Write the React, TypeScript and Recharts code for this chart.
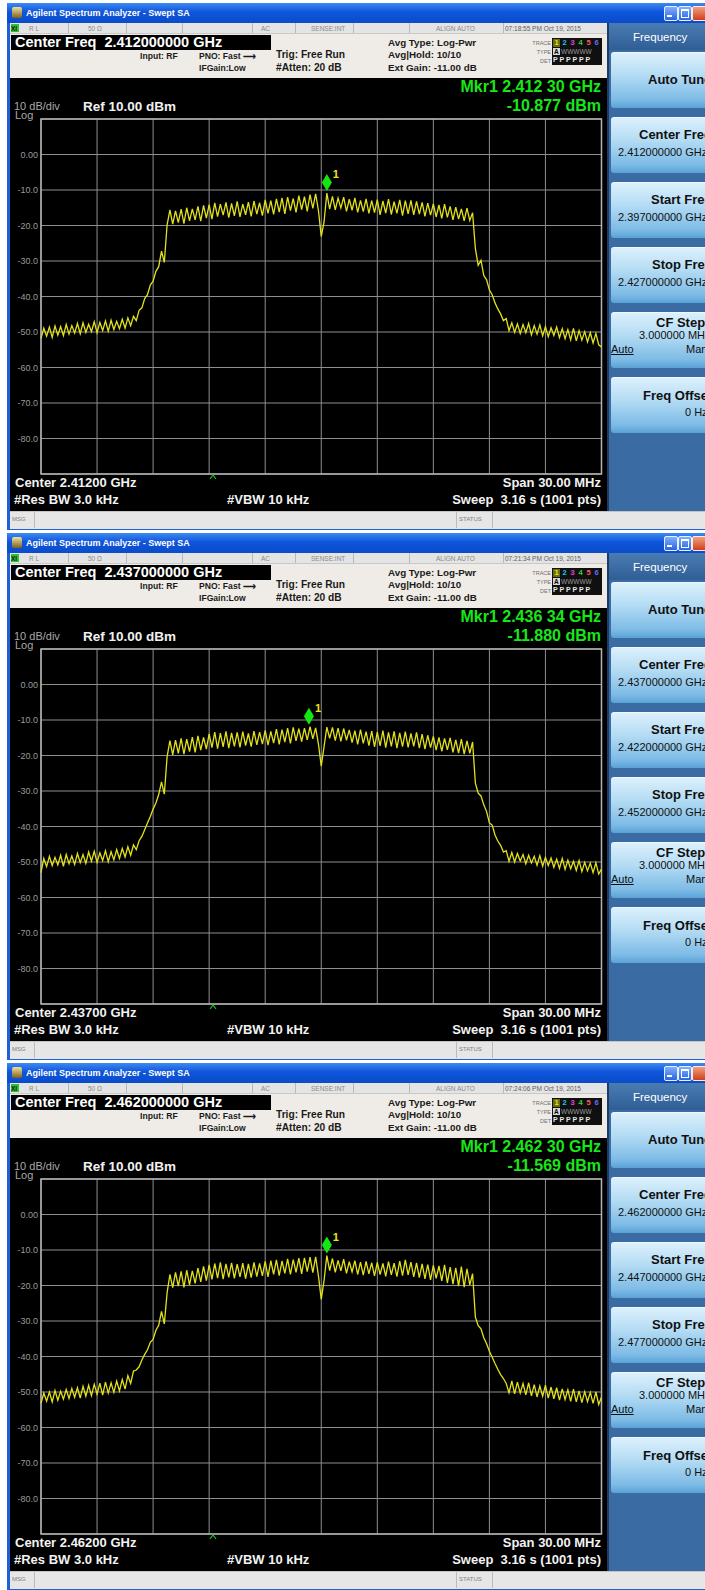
import React from 'react';
import { LineChart, Line, XAxis, YAxis, CartesianGrid, ReferenceDot, ReferenceArea } from 'recharts';

// Sweep settings shared by the three captures
const SPAN_MHZ = 30;
const FREQ_STEP_MHZ = 0.15;
const REF_LEVEL = 10;
const Y_TICKS = [10, 0, -10, -20, -30, -40, -50, -60, -70, -80, -90];
const X_TICKS = [-15, -12, -9, -6, -3, 0, 3, 6, 9, 12, 15];

const CENTER_GHZ = [2.412, 2.437, 2.462];
const MARKER_GHZ = [2.4123, 2.43634, 2.4623];
const MARKER_DBM = [-10.877, -11.88, -11.569];
const TIMESTAMPS = ['07:18:55 PM Oct 19, 2015', '07:21:34 PM Oct 19, 2015', '07:24:06 PM Oct 19, 2015'];

// Trace 1 levels (dBm), one per sweep step from -15 MHz to +15 MHz
const TRACE_2412 = [
  -51.8, -48.9, -51.2, -48.6, -51.5, -48.3, -50.9, -48.5, -51.0, -47.9,
  -50.6, -48.2, -50.3, -47.6, -50.5, -47.4, -50.1, -47.8, -49.9, -47.1,
  -50.2, -47.3, -49.6, -46.9, -49.8, -46.7, -49.3, -47.0, -49.1, -46.4,
  -48.9, -46.0, -48.2, -45.6, -46.8, -43.9, -43.2, -40.6, -39.5, -36.8,
  -35.7, -32.9, -31.6, -27.2, -30.4, -19.8, -15.6, -19.6, -15.9, -19.2,
  -15.4, -19.5, -15.0, -18.7, -15.3, -18.4, -14.6, -18.8, -14.3, -17.9,
  -14.1, -18.2, -13.6, -17.5, -14.0, -17.1, -13.5, -17.8, -13.8, -17.3,
  -13.2, -17.6, -14.0, -17.0, -13.4, -17.4, -13.1, -16.8, -13.6, -17.2,
  -12.8, -16.6, -13.0, -16.9, -12.5, -16.2, -12.2, -16.7, -12.0, -15.8,
  -12.4, -16.3, -11.6, -15.5, -11.9, -16.0, -11.3, -15.2, -11.1, -15.8,
  -23.1, -19.0, -10.88, -15.4, -11.8, -15.6, -12.3, -15.1, -12.0, -16.0,
  -12.6, -15.7, -12.2, -16.3, -12.9, -16.1, -12.5, -16.6, -13.0, -16.4,
  -12.7, -17.0, -13.1, -16.5, -12.6, -16.9, -13.3, -16.6, -12.8, -17.2,
  -13.0, -16.7, -12.9, -17.0, -13.2, -16.8, -13.5, -17.4, -13.7, -17.1,
  -13.9, -17.6, -14.2, -18.0, -14.0, -17.7, -14.6, -18.4, -14.8, -18.2,
  -15.3, -18.7, -15.1, -18.6, -16.4, -26.5, -31.2, -29.8, -34.1, -35.3,
  -38.2, -39.5, -41.8, -43.5, -44.9, -46.8, -46.2, -49.6, -47.4, -50.1,
  -47.7, -50.4, -47.9, -50.2, -47.6, -50.8, -48.2, -50.6, -48.0, -51.1,
  -48.5, -51.3, -48.8, -51.0, -48.6, -51.6, -49.1, -51.9, -49.3, -52.2,
  -49.0, -52.5, -49.6, -52.3, -49.9, -52.8, -50.2, -53.1, -50.4, -53.6,
  -54.2,
];

const TRACE_2437 = [
  -53.0, -49.0, -51.3, -48.4, -51.0, -48.7, -50.8, -48.1, -51.2, -47.9,
  -50.5, -48.3, -50.7, -47.6, -50.2, -47.9, -50.4, -47.2, -49.8, -47.0,
  -50.1, -47.4, -49.6, -46.8, -49.9, -47.1, -49.4, -46.5, -49.0, -46.2,
  -48.6, -45.7, -48.1, -45.2, -46.5, -44.0, -42.8, -40.9, -39.0, -37.2,
  -35.1, -33.4, -31.0, -27.4, -30.9, -20.3, -15.8, -19.8, -15.7, -19.4,
  -15.2, -19.6, -15.4, -18.9, -14.8, -19.1, -14.5, -18.5, -14.9, -18.2,
  -13.9, -17.8, -13.4, -18.1, -13.7, -17.6, -13.2, -17.9, -13.6, -17.4,
  -13.5, -17.7, -13.3, -17.2, -13.8, -17.5, -13.1, -17.0, -13.4, -16.8,
  -12.9, -17.1, -13.2, -16.5, -12.6, -16.9, -12.7, -16.2, -12.3, -16.6,
  -12.1, -15.9, -12.4, -16.1, -12.3, -15.6, -11.9, -15.3, -12.2, -16.8,
  -23.0, -17.5, -12.0, -15.2, -12.1, -15.8, -12.3, -16.0, -12.4, -15.7,
  -12.8, -16.4, -13.0, -16.9, -12.7, -16.6, -13.3, -17.2, -13.1, -17.6,
  -13.4, -17.3, -13.0, -17.8, -13.5, -17.4, -13.2, -17.9, -13.6, -17.5,
  -13.3, -17.7, -13.8, -17.4, -13.5, -17.9, -14.0, -18.2, -14.3, -17.8,
  -14.6, -18.5, -14.9, -18.8, -15.2, -18.4, -15.0, -19.1, -15.6, -19.3,
  -15.4, -19.6, -15.9, -19.4, -16.2, -27.8, -30.6, -31.4, -33.9, -35.8,
  -39.0, -39.6, -42.4, -44.1, -45.3, -47.2, -46.8, -49.8, -47.3, -50.0,
  -47.6, -49.7, -47.9, -50.5, -48.1, -50.3, -48.4, -50.9, -48.2, -51.2,
  -48.7, -51.0, -48.9, -51.5, -49.2, -51.8, -49.0, -52.1, -49.5, -51.9,
  -49.8, -52.4, -49.6, -52.7, -50.1, -52.5, -50.3, -53.0, -50.2, -53.4,
  -52.0,
];

const TRACE_2462 = [
  -53.2, -50.3, -52.6, -50.0, -52.8, -49.6, -52.3, -49.8, -52.0, -49.3,
  -51.8, -49.0, -51.5, -48.8, -51.7, -48.4, -51.2, -48.1, -51.0, -47.8,
  -50.6, -47.5, -50.9, -47.2, -50.3, -47.4, -50.1, -46.9, -49.7, -46.5,
  -49.2, -45.4, -47.6, -44.1, -43.8, -42.9, -41.0, -39.4, -38.1, -36.0,
  -35.2, -32.6, -31.2, -27.3, -30.8, -22.0, -16.9, -20.6, -16.3, -20.2,
  -16.0, -20.5, -15.7, -19.8, -15.9, -19.4, -15.1, -19.0, -14.6, -18.6,
  -14.2, -18.3, -13.8, -17.9, -13.5, -18.2, -13.9, -17.7, -13.6, -18.0,
  -14.0, -17.6, -13.7, -18.1, -13.9, -17.8, -13.5, -17.5, -13.8, -17.3,
  -13.2, -17.6, -13.0, -16.9, -12.8, -17.2, -13.1, -16.6, -12.5, -16.9,
  -12.7, -16.3, -12.3, -16.7, -12.2, -16.1, -12.0, -16.4, -11.9, -17.3,
  -23.9, -18.6, -11.57, -15.8, -12.4, -16.3, -12.9, -15.9, -12.6, -16.6,
  -13.3, -16.2, -13.0, -16.9, -13.4, -17.1, -13.2, -16.7, -13.6, -17.3,
  -13.5, -16.9, -13.8, -17.4, -13.3, -17.0, -13.7, -17.5, -13.1, -17.2,
  -12.8, -17.0, -13.4, -17.6, -13.6, -17.8, -13.9, -18.1, -14.1, -18.4,
  -14.3, -18.0, -14.5, -18.7, -14.2, -19.3, -14.8, -19.6, -15.0, -20.2,
  -14.7, -20.5, -15.3, -19.8, -16.7, -28.9, -31.3, -32.2, -34.7, -36.4,
  -38.5, -40.2, -42.0, -43.6, -45.1, -46.2, -47.6, -50.2, -46.9, -50.5,
  -47.2, -50.3, -47.6, -50.8, -47.4, -51.1, -47.9, -51.4, -48.3, -51.2,
  -48.1, -51.7, -48.6, -51.9, -48.8, -52.3, -49.1, -52.1, -49.4, -52.6,
  -49.2, -52.8, -49.7, -53.0, -49.9, -52.7, -50.1, -53.2, -50.0, -53.5,
  -51.5,
];

const TRACES = [TRACE_2412, TRACE_2437, TRACE_2462];

const W = 705;
const PANEL_H = 530;
const FONT = '"Liberation Sans", Arial, sans-serif';
const TRACE_COLORS = ['#e8e800', '#1ec8e6', '#e040e0', '#3cd03c', '#ff5a5a', '#6a6aff'];

type TxtProps = {
  x: number;
  y: number;
  size: number;
  color?: string;
  bold?: boolean;
  right?: boolean;
  underline?: boolean;
  children: React.ReactNode;
};

// text placed by its left (or right) edge and vertical centre
const Txt = ({ x, y, size, color = '#1a1a1a', bold, right, underline, children }: TxtProps) => (
  <div
    style={{
      position: 'absolute',
      top: y - size * 0.6,
      ...(right ? { right: W - x } : { left: x }),
      fontSize: size,
      lineHeight: `${size * 1.2}px`,
      fontWeight: bold ? 700 : 400,
      color,
      whiteSpace: 'pre',
      fontFamily: FONT,
      textDecoration: underline ? 'underline' : 'none',
    }}
  >
    {children}
  </div>
);

const Box = ({ x, y, w, h, bg, style }: { x: number; y: number; w: number; h: number; bg: string; style?: React.CSSProperties }) => (
  <div style={{ position: 'absolute', left: x, top: y, width: w, height: h, background: bg, ...style }} />
);

const fmtTick = (v: number) => (v === REF_LEVEL || v === -90 ? '' : v === 0 ? '0.00' : v.toFixed(1));

const fmtMarker = (ghz: number) => {
  const s = ghz.toFixed(5);
  return `${s.slice(0, 5)} ${s.slice(5)}`;
};

const MarkerShape = (props: any) => {
  const { cx, cy } = props;
  const tip = cy - 2;
  return (
    <g>
      <polygon
        points={`${cx},${tip - 17} ${cx + 5},${tip - 8.5} ${cx},${tip} ${cx - 5},${tip - 8.5}`}
        fill="#14e614"
      />
      <text x={cx + 6} y={cy - 15} fill="#e6e619" fontSize={11} fontWeight="bold" fontFamily={FONT}>
        1
      </text>
    </g>
  );
};

const SOFTKEYS = [
  { top: 52, title: 'Auto Tune', tx: 648 },
  { top: 117, title: 'Center Freq', tx: 639 },
  { top: 182, title: 'Start Freq', tx: 651 },
  { top: 247, title: 'Stop Freq', tx: 652 },
  { top: 312, title: 'CF Step', tx: 656 },
  { top: 377, title: 'Freq Offset', tx: 643 },
];

const StatusCell = ({ x, label }: { x: number; label: string }) => (
  <Txt x={x} y={29} size={6.5} color="#8a8a8a">{label}</Txt>
);

const Panel = ({ idx }: { idx: number }) => {
  const center = CENTER_GHZ[idx];
  const data = TRACES[idx].map((level, i) => ({ freq: -SPAN_MHZ / 2 + i * FREQ_STEP_MHZ, level }));
  const mkrOffset = (MARKER_GHZ[idx] - center) * 1000;
  const start = (center - SPAN_MHZ / 2000).toFixed(9);
  const stop = (center + SPAN_MHZ / 2000).toFixed(9);
  const values = ['', `${center.toFixed(9)} GHz`, `${start} GHz`, `${stop} GHz`];

  return (
    <div style={{ position: 'relative', width: W, height: PANEL_H, overflow: 'hidden', background: '#ffffff' }}>
      {/* window frame and title bar */}
      <Box x={7} y={3} w={698} h={527} bg="#1f5fd8" />
      <Box x={7} y={3} w={698} h={20} bg="linear-gradient(#3d8af2, #0f55dc 45%, #0a4cc8)" />
      <Box x={12} y={7} w={10} h={11} bg="linear-gradient(#f0e0a0, #806020)" style={{ borderRadius: 2 }} />
      <Txt x={26} y={13} size={9} color="#ffffff" bold>Agilent Spectrum Analyzer - Swept SA</Txt>
      <Box x={664} y={6} w={12} h={13} bg="linear-gradient(#7fb0ff, #2a64e0)" style={{ border: '1px solid #e8f0ff', borderRadius: 2 }} />
      <Box x={678} y={6} w={12} h={13} bg="linear-gradient(#7fb0ff, #2a64e0)" style={{ border: '1px solid #e8f0ff', borderRadius: 2 }} />
      <Box x={692} y={6} w={14} h={13} bg="linear-gradient(#f0a080, #d0401a)" style={{ border: '1px solid #ffe8e0', borderRadius: 2 }} />
      <Box x={667} y={15} w={5} h={2} bg="#ffffff" />
      <Box x={681} y={9} w={6} h={6} bg="transparent" style={{ border: '1px solid #ffffff', borderTopWidth: 2 }} />

      {/* status row */}
      <Box x={10} y={23} w={597} h={10} bg="#e4e4e4" style={{ borderBottom: '1px solid #c8c8c8' }} />
      <Box x={11} y={24} w={8} h={8} bg="#30c030" />
      <Txt x={11} y={28.5} size={6.5} color="#102010" bold>XI</Txt>
      {[68, 126, 182, 252, 295, 353, 409, 503].map((sx) => (
        <Box key={sx} x={sx} y={23} w={1} h={10} bg="#b8b8b8" />
      ))}
      <StatusCell x={29} label="R L" />
      <StatusCell x={88} label="50 Ω" />
      <StatusCell x={261} label="AC" />
      <StatusCell x={311} label="SENSE:INT" />
      <StatusCell x={436} label="ALIGN AUTO" />
      <Txt x={505} y={29} size={6.5} color="#606060">{TIMESTAMPS[idx]}</Txt>

      {/* settings header */}
      <Box x={10} y={34} w={597} h={44} bg="#efebe6" />
      <Box x={11} y={35} w={260} h={15} bg="#000000" />
      <Txt x={15} y={42.5} size={14.5} color="#ffffff" bold>{`Center Freq  ${center.toFixed(9)} GHz`}</Txt>
      <Txt x={140} y={56} size={8.6} bold>Input: RF</Txt>
      <Txt x={199} y={56} size={8.6} bold>PNO: Fast ⟶</Txt>
      <Txt x={199} y={68} size={8.6} bold>IFGain:Low</Txt>
      <Txt x={276} y={55} size={10.2} bold>Trig: Free Run</Txt>
      <Txt x={276} y={68} size={10.2} bold>#Atten: 20 dB</Txt>
      <Txt x={388} y={43} size={9.8} bold>Avg Type: Log-Pwr</Txt>
      <Txt x={388} y={55} size={9.8} bold>Avg|Hold: 10/10</Txt>
      <Txt x={388} y={68} size={9.8} bold>Ext Gain: -11.00 dB</Txt>
      <Txt x={551} y={43} size={5.5} color="#707070" right>TRACE</Txt>
      <Txt x={551} y={52} size={5.5} color="#707070" right>TYPE</Txt>
      <Txt x={551} y={61} size={5.5} color="#707070" right>DET</Txt>
      <Box x={552} y={38} w={50} h={27} bg="#101010" />
      {TRACE_COLORS.map((c, k) => (
        <div
          key={c}
          style={{
            position: 'absolute', left: 553 + k * 8, top: 39, width: 7, height: 8,
            background: k === 0 ? '#6a6a10' : 'transparent', color: c, fontSize: 7.5, fontWeight: 700,
            lineHeight: '8px', textAlign: 'center', fontFamily: FONT,
          }}
        >
          {k + 1}
        </div>
      ))}
      <Box x={553} y={48} w={7} h={7} bg="#d8d8d8" />
      <Txt x={554} y={52} size={6.5} color="#000" bold>A</Txt>
      <Txt x={561} y={52} size={6.5} color="#9a9a9a">WWWWW</Txt>
      <Txt x={553} y={60.5} size={7} color="#e8e8e8" bold>P P P P P P</Txt>

      {/* screen */}
      <Box x={10} y={78} w={597} h={433} bg="#000000" />
      <Txt x={601} y={87} size={16} color="#19e619" bold right>{`Mkr1 ${fmtMarker(MARKER_GHZ[idx])} GHz`}</Txt>
      <Txt x={601} y={106} size={16} color="#19e619" bold right>{`${MARKER_DBM[idx].toFixed(3)} dBm`}</Txt>
      <Txt x={14} y={107} size={11} color="#a8a8a8">10 dB/div</Txt>
      <Txt x={15} y={116} size={11} color="#a8a8a8">Log</Txt>
      <Txt x={83} y={107} size={13.5} color="#f0f0f0" bold>{`Ref ${REF_LEVEL.toFixed(2)} dBm`}</Txt>

      <div style={{ position: 'absolute', left: 10, top: 100 }}>
        <LineChart width={597} height={385} data={data} margin={{ top: 19, right: 5.5, bottom: 11, left: 0 }}>
          <XAxis dataKey="freq" type="number" domain={[-SPAN_MHZ / 2, SPAN_MHZ / 2]} ticks={X_TICKS} hide />
          <YAxis
            type="number"
            domain={[-90, REF_LEVEL]}
            ticks={Y_TICKS}
            interval={0}
            width={31}
            axisLine={false}
            tickLine={false}
            tickSize={0}
            tickMargin={3}
            tickFormatter={fmtTick}
            tick={{ fill: '#9a9a9a', fontSize: 9, fontFamily: FONT }}
            allowDataOverflow
          />
          <CartesianGrid stroke="#8e8e8e" strokeWidth={1} />
          <ReferenceArea x1={-SPAN_MHZ / 2} x2={SPAN_MHZ / 2} y1={-90} y2={REF_LEVEL} fill="none" stroke="#b4b4b4" strokeWidth={1.5} ifOverflow="visible" />
          <Line
            type="linear"
            dataKey="level"
            stroke="#e2e21c"
            strokeWidth={1.3}
            dot={false}
            isAnimationActive={false}
          />
          <ReferenceDot x={mkrOffset} y={MARKER_DBM[idx]} shape={MarkerShape} ifOverflow="visible" />
        </LineChart>
      </div>
      <svg style={{ position: 'absolute', left: 209, top: 474 }} width={8} height={6}>
        <polyline points="1,5 4,1 7,5" fill="none" stroke="#20c020" strokeWidth={1.2} />
      </svg>

      <Txt x={15} y={483} size={13} color="#f2f2f2" bold>{`Center ${center.toFixed(5)} GHz`}</Txt>
      <Txt x={14} y={500} size={13} color="#f2f2f2" bold>#Res BW 3.0 kHz</Txt>
      <Txt x={227} y={500} size={13} color="#f2f2f2" bold>#VBW 10 kHz</Txt>
      <Txt x={601} y={483} size={13} color="#f2f2f2" bold right>{`Span ${SPAN_MHZ.toFixed(2)} MHz`}</Txt>
      <Txt x={601} y={500} size={13} color="#f2f2f2" bold right>Sweep  3.16 s (1001 pts)</Txt>

      {/* soft key panel */}
      <Box x={607} y={23} w={98} h={488} bg="#3a6ba3" style={{ borderLeft: '2px solid #1c3c66' }} />
      <Box x={609} y={23} w={96} h={27} bg="linear-gradient(#4a7cb4, #2f5e94)" />
      <Txt x={633} y={38} size={11.5} color="#ffffff">Frequency</Txt>
      {SOFTKEYS.map((k) => (
        <Box
          key={k.title}
          x={611}
          y={k.top}
          w={94}
          h={55}
          bg="linear-gradient(#dcf0fc, #b4dcf4 40%, #7dbbe6 85%, #5aa2d6)"
          style={{ borderTop: '1px solid #eef8ff', borderRadius: '3px 0 0 3px' }}
        />
      ))}
      <Txt x={648} y={80} size={13} color="#101010" bold>Auto Tune</Txt>
      {[1, 2, 3].map((n) => (
        <React.Fragment key={n}>
          <Txt x={SOFTKEYS[n].tx} y={SOFTKEYS[n].top + 18} size={13} color="#101010" bold>{SOFTKEYS[n].title}</Txt>
          <Txt x={618} y={SOFTKEYS[n].top + 36} size={11} color="#101010">{values[n]}</Txt>
        </React.Fragment>
      ))}
      <Txt x={SOFTKEYS[4].tx} y={323} size={13} color="#101010" bold>CF Step</Txt>
      <Txt x={639} y={336} size={11} color="#101010">3.000000 MHz</Txt>
      <Txt x={611} y={350} size={11} color="#101010" underline>Auto</Txt>
      <Txt x={686} y={350} size={11} color="#101010">Man</Txt>
      <Txt x={SOFTKEYS[5].tx} y={396} size={13} color="#101010" bold>Freq Offset</Txt>
      <Txt x={685} y={413} size={11} color="#101010">0 Hz</Txt>

      {/* message bar */}
      <Box x={10} y={511} w={695} h={17} bg="#e6e6e6" style={{ borderTop: '1px solid #c4c4c4' }} />
      <Box x={34} y={512} w={1} h={16} bg="#bcbcbc" />
      <Box x={456} y={512} w={1} h={16} bg="#bcbcbc" />
      <Box x={492} y={512} w={1} h={16} bg="#bcbcbc" />
      <Txt x={12} y={520} size={6} color="#808080">MSG</Txt>
      <Txt x={459} y={520} size={6} color="#808080">STATUS</Txt>
    </div>
  );
};

export default function App() {
  return (
    <div style={{ position: 'absolute', left: 0, top: 0, width: W, height: PANEL_H * 3, overflow: 'hidden', background: '#ffffff' }}>
      {[0, 1, 2].map((i) => (
        <Panel key={i} idx={i} />
      ))}
    </div>
  );
}
